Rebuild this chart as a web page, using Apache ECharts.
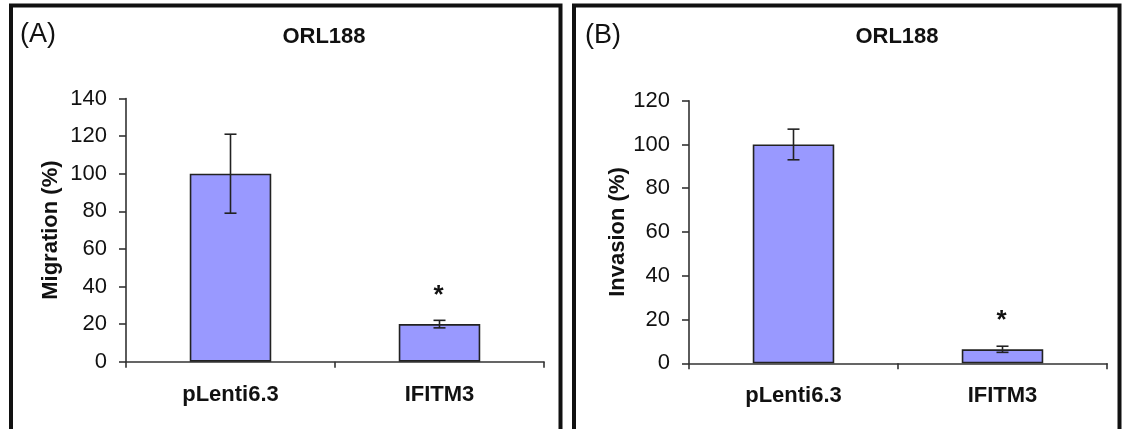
<!DOCTYPE html>
<html>
<head>
<meta charset="utf-8">
<script src="https://cdn.jsdelivr.net/npm/echarts@6/dist/echarts.min.js"></script>
<style>
  html, body { margin: 0; padding: 0; background: #fff; }
  #chart { width: 1122px; height: 429px; }
</style>
</head>
<body>
<div id="chart"></div>
<script>
// data
var categories = ['pLenti6.3', 'IFITM3'];
var migration = [100, 20];
var migrationErr = [21, 2];
var invasion = [100, 6.4];
var invasionErr = [7, 1.4];
var significant = [false, true];
var migrationTicks = { min: 0, max: 140, interval: 20 };
var invasionTicks = { min: 0, max: 120, interval: 20 };

var font = 'Arial, "Liberation Sans", sans-serif';
var barColor = '#9999ff';
var ink = '#222';

var myChart = echarts.init(document.getElementById('chart'));

function errData(vals, errs) {
  return vals.map(function (v, i) {
    return [i, v, errs[i], significant[i] ? 1 : 0];
  });
}

// error bar + asterisk
function renderErr(params, api) {
  var x = api.value(0), y = api.value(1), e = api.value(2);
  var hi = api.coord([x, y + e]);
  var lo = api.coord([x, y - e]);
  var half = 6;
  var st = { stroke: ink, lineWidth: 1.6 };
  var kids = [
    { type: 'line', shape: { x1: hi[0], y1: hi[1], x2: lo[0], y2: lo[1] }, style: st },
    { type: 'line', shape: { x1: hi[0] - half, y1: hi[1], x2: hi[0] + half, y2: hi[1] }, style: st },
    { type: 'line', shape: { x1: lo[0] - half, y1: lo[1], x2: lo[0] + half, y2: lo[1] }, style: st }
  ];
  if (api.value(3)) {
    kids.push({
      type: 'text', x: hi[0] - 1, y: hi[1] - 25,
      style: { text: '*', font: 'bold 26px ' + font, fill: '#111', textAlign: 'center', textVerticalAlign: 'middle' }
    });
  }
  return { type: 'group', children: kids };
}

function yAxis(idx, name, ticks, gap) {
  return {
    gridIndex: idx,
    type: 'value',
    min: ticks.min, max: ticks.max, interval: ticks.interval,
    name: name,
    nameLocation: 'middle',
    nameGap: gap,
    nameTextStyle: { fontFamily: font, fontSize: 22, fontWeight: 'bold', color: '#111' },
    axisLine: { show: true, lineStyle: { color: '#333', width: 1.6 } },
    axisTick: { show: true, length: 7, lineStyle: { color: '#333', width: 1.6 } },
    axisLabel: { color: '#111', fontFamily: font, fontSize: 22, margin: 19 },
    splitLine: { show: false }
  };
}

function xAxis(idx) {
  return {
    gridIndex: idx,
    type: 'category',
    data: categories,
    axisLine: { lineStyle: { color: '#333', width: 1.6 } },
    axisTick: { show: true, length: 6, lineStyle: { color: '#333', width: 1.6 } },
    axisLabel: { color: '#111', fontFamily: font, fontSize: 22, fontWeight: 'bold', margin: 22 }
  };
}

var option = {
  animation: false,
  backgroundColor: '#fff',
  grid: [
    { left: 126, right: 578, top: 98.5, bottom: 67.3 },
    { left: 689, right: 15, top: 100.7, bottom: 65.7 }
  ],
  xAxis: [xAxis(0), xAxis(1)],
  yAxis: [
    yAxis(0, 'Migration (%)', migrationTicks, 64),
    yAxis(1, 'Invasion (%)', invasionTicks, 56)
  ],
  series: [
    {
      type: 'bar', xAxisIndex: 0, yAxisIndex: 0, barWidth: '39%',
      itemStyle: { color: barColor, borderColor: ink, borderWidth: 1.6 },
      data: migration
    },
    {
      type: 'custom', xAxisIndex: 0, yAxisIndex: 0, z: 5,
      renderItem: renderErr, data: errData(migration, migrationErr)
    },
    {
      type: 'bar', xAxisIndex: 1, yAxisIndex: 1, barWidth: '39%',
      itemStyle: { color: barColor, borderColor: ink, borderWidth: 1.6 },
      data: invasion
    },
    {
      type: 'custom', xAxisIndex: 1, yAxisIndex: 1, z: 5,
      renderItem: renderErr, data: errData(invasion, invasionErr)
    }
  ],
  graphic: [
    { type: 'rect', shape: { x: 11, y: 5.5, width: 549.5, height: 440 }, style: { fill: null, stroke: '#111', lineWidth: 4 } },
    { type: 'rect', shape: { x: 574, y: 5.5, width: 545.5, height: 440 }, style: { fill: null, stroke: '#111', lineWidth: 4 } },
    { type: 'text', x: 20, y: 21, style: { text: '(A)', font: '27px ' + font, fill: '#111' } },
    { type: 'text', x: 585, y: 22, style: { text: '(B)', font: '27px ' + font, fill: '#111' } },
    { type: 'text', x: 324, y: 26, style: { text: 'ORL188', font: 'bold 22px ' + font, fill: '#111', textAlign: 'center' } },
    { type: 'text', x: 897, y: 26, style: { text: 'ORL188', font: 'bold 22px ' + font, fill: '#111', textAlign: 'center' } }
  ]
};

myChart.setOption(option);
window.addEventListener('resize', function () {
  myChart.resize();
});
</script>
</body>
</html>
